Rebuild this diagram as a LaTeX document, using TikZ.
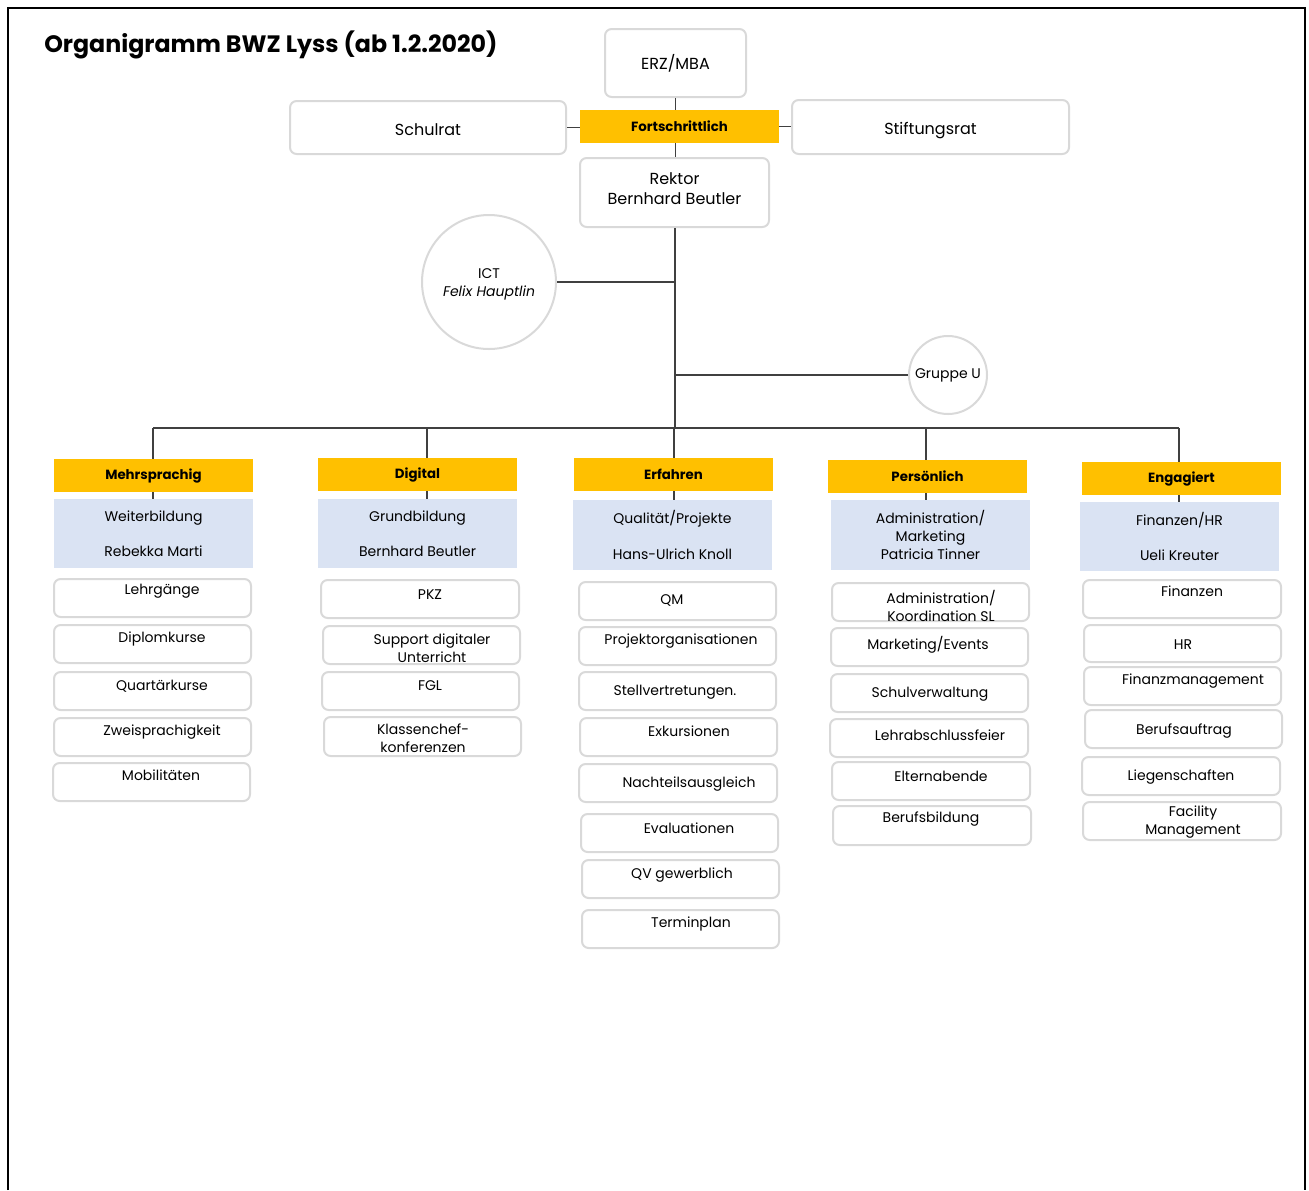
\documentclass[tikz,border=0pt]{standalone}
\usepackage{fontspec}
\setmainfont{Poppins}
\definecolor{gold}{HTML}{FFC000}
\definecolor{paleblue}{HTML}{DAE3F3}
\definecolor{boxgray}{HTML}{D9D9D9}
\definecolor{linegray}{HTML}{404040}
\tikzset{
  ibox/.style={draw=boxgray, line width=1.5pt, rounded corners=5pt, fill=white, inner sep=0pt},
  ybox/.style={fill=gold, inner sep=0pt, font=\bfseries\fontsize{10}{11}\selectfont},
  bbox/.style={fill=paleblue, inner sep=0pt, align=center, font=\fontsize{10.5}{13.5}\selectfont},
  txt/.style={font=\fontsize{10.5}{13.5}\selectfont, inner sep=0pt, align=center},
  toptxt/.style={font=\fontsize{12}{15.5}\selectfont, align=center},
  conn/.style={draw=linegray, line width=0.8pt},
  ring/.style={circle, draw=boxgray, line width=1.5pt, fill=white, inner sep=0pt, align=center}
}
\newcommand\ibox[8]{%
  \node[ibox, minimum width={(#4-#2)*0.75pt}, minimum height={(#5-#3)*0.75pt}] (#1) at ({(#2+#4)/2},{(#3+#5)/2}) {};
  \node[txt] (#1-t) at (#6,#7) {#8};}
\newcommand\tbox[7]{%
  \node[ibox, minimum width={(#4-#2)*0.75pt}, minimum height={(#5-#3)*0.75pt}] (#1) at ({(#2+#4)/2},{(#3+#5)/2}) {};
  \node[toptxt, inner sep=0pt] (#1-t) at ([yshift={-(#6)*0.75pt}]#1.center) {#7};}
\newcommand\ybox[6]{%
  \node[ybox, minimum width={(#4-#2)*0.75pt}, minimum height={(#5-#3)*0.75pt}] (#1) at ({(#2+#4)/2},{(#3+#5)/2}) {#6};}
\newcommand\bbox[6]{%
  \node[bbox, minimum width={(#4-#2)*0.75pt}, minimum height={(#5-#3)*0.75pt}] (#1) at ({(#2+#4)/2},{(#3+#5)/2}) {#6};}
\begin{document}
\begin{tikzpicture}[x=0.75pt,y=-0.75pt]
\useasboundingbox (0,0) rectangle (1309,1190);
\draw[line width=1.5pt] (8,1190) -- (8,8) -- (1305,8) -- (1305,1190);
\node[anchor=base west, inner sep=0pt, font=\bfseries\fontsize{17.8}{22}\selectfont] (title) at (44,52) {Organigramm BWZ Lyss (ab 1.2.2020)};

% top
\tbox{erz}{605}{29}{746}{97}{0}{ERZ/MBA}
\tbox{schulrat}{290}{101}{566}{154}{2}{Schulrat}
\tbox{stift}{792}{100}{1069}{154}{4}{Stiftungsrat}
\tbox{rektor}{580}{158}{769}{227}{-4}{Rektor\\Bernhard Beutler}
\ybox{fort}{580}{110}{779}{143}{Fortschrittlich}

\node[ring, minimum size={134*0.75pt}, font=\fontsize{10.5}{13.5}\selectfont] (ict) at (489,282) {};
\node[font=\fontsize{10.5}{13.5}\selectfont, align=center, inner sep=0pt] (ict-t) at (489,284) {ICT\\\textit{Felix Hauptlin}};
\node[ring, minimum size={78*0.75pt}, font=\fontsize{10.5}{13.5}\selectfont] (gruppe) at (948,375) {Gruppe U};

\coordinate (spine) at (675,428);
\coordinate (c1) at (153,428);
\coordinate (c2) at (427,428);
\coordinate (c3) at (674,428);
\coordinate (c4) at (926,428);
\coordinate (c5) at (1179,428);

% columns heads
\ybox{y1}{54}{459}{253}{492}{Mehrsprachig}
\ybox{y2}{318}{458}{517}{491}{Digital}
\ybox{y3}{574}{458}{773}{491}{Erfahren}
\ybox{y4}{828}{460}{1027}{493}{Persönlich}
\ybox{y5}{1082}{462}{1281}{495}{Engagiert}

\bbox{b1}{54}{499}{253}{568}{Weiterbildung\\[13pt]Rebekka Marti}
\bbox{b2}{318}{499}{517}{568}{Grundbildung\\[13pt]Bernhard Beutler}
\bbox{b3}{573}{500}{772}{570}{Qualität/Projekte\\[13pt]Hans-Ulrich Knoll}
\bbox{b4}{831}{500}{1030}{570}{Administration/\\Marketing\\Patricia Tinner}
\bbox{b5}{1080}{502}{1279}{571}{Finanzen/HR\\[13pt]Ueli Kreuter}

% connectors
\draw[conn] (erz.south) -- (erz.south |- fort.north);
\draw[conn] (schulrat.east) -- (schulrat.east -| fort.west);
\draw[conn] (fort.east) -- (fort.east -| stift.west);
\draw[conn] (erz.south |- fort.south) -- (erz.south |- rektor.north);
\draw[conn] (spine |- rektor.south) -- (spine);
\draw[conn] (ict.east) -- (ict.east -| spine);
\draw[conn] (gruppe.west) -- (gruppe.west -| spine);
\draw[conn] (c1) -- (c5);
\draw[conn] (c1) -- (c1 |- y1.north);
\draw[conn] (c2) -- (c2 |- y2.north);
\draw[conn] (c3) -- (c3 |- y3.north);
\draw[conn] (c4) -- (c4 |- y4.north);
\draw[conn] (c5) -- (c5 |- y5.north);
\draw[conn] (c1 |- y1.south) -- (c1 |- b1.north);
\draw[conn] (c2 |- y2.south) -- (c2 |- b2.north);
\draw[conn] (c3 |- y3.south) -- (c3 |- b3.north);
\draw[conn] (c4 |- y4.south) -- (c4 |- b4.north);
\draw[conn] (c5 |- y5.south) -- (c5 |- b5.north);

% column 1
\ibox{m1}{54}{579}{251}{617}{162}{591}{Lehrgänge}
\ibox{m2}{54}{625}{251}{663}{162}{639}{Diplomkurse}
\ibox{m3}{54}{672}{251}{710}{162}{686}{Quartärkurse}
\ibox{m4}{54}{718}{251}{756}{162}{732}{Zweisprachigkeit}
\ibox{m5}{53}{763}{250}{801}{161}{775}{Mobilitäten}
% column 2
\ibox{d1}{321}{580}{519}{618}{430}{595}{PKZ}
\ibox{d2}{323}{626}{520}{664}{432}{648}{Support digitaler\\Unterricht}
\ibox{d3}{322}{672}{519}{710}{430}{686}{FGL}
\ibox{d4}{324}{717}{521}{756}{423}{738}{Klassenchef-\\konferenzen}
% column 3
\ibox{e1}{579}{582}{776}{620}{672}{600}{QM}
\ibox{e2}{579}{627}{776}{665}{681}{641}{Projektorganisationen}
\ibox{e3}{579}{672}{776}{710}{675}{692}{Stellvertretungen.}
\ibox{e4}{580}{718}{777}{756}{689}{731}{Exkursionen}
\ibox{e5}{579}{764}{777}{802}{689}{784}{Nachteilsausgleich}
\ibox{e6}{581}{814}{778}{852}{689}{828}{Evaluationen}
\ibox{e7}{582}{860}{779}{898}{682}{875}{QV gewerblich}
\ibox{e8}{582}{910}{779}{948}{691}{924}{Terminplan}
% column 4
\ibox{p1}{832}{583}{1029}{621}{941}{606}{Administration/\\Koordination SL}
\ibox{p2}{831}{628}{1028}{666}{928}{645}{Marketing/Events}
\ibox{p3}{831}{674}{1028}{712}{930}{694}{Schulverwaltung}
\ibox{p4}{830}{719}{1028}{757}{940}{735}{Lehrabschlussfeier}
\ibox{p5}{832}{762}{1030}{800}{941}{776}{Elternabende}
\ibox{p6}{833}{806}{1031}{845}{931}{819}{Berufsbildung}
% column 5
\ibox{g1}{1083}{580}{1281}{618}{1192}{591}{Finanzen}
\ibox{g2}{1084}{625}{1281}{662}{1183}{645}{HR}
\ibox{g3}{1084}{667}{1281}{705}{1193}{681}{Finanzmanagement}
\ibox{g4}{1085}{710}{1282}{748}{1184}{731}{Berufsauftrag}
\ibox{g5}{1082}{757}{1280}{795}{1181}{777}{Liegenschaften}
\ibox{g6}{1083}{802}{1281}{840}{1193}{822}{Facility\\Management}
\end{tikzpicture}
\end{document}
